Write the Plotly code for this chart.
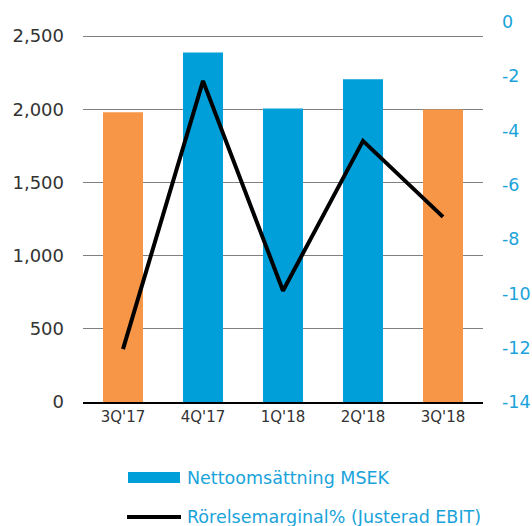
import plotly.graph_objects as go

quarters = ["3Q'17", "4Q'17", "1Q'18", "2Q'18", "3Q'18"]
net_sales = [1980, 2388, 2005, 2205, 1998]
margin_pct = [-12.05, -2.17, -9.9, -4.38, -7.18]
bar_colors = ["#F79646", "#009FD9", "#009FD9", "#009FD9", "#F79646"]
left_ticks = [0, 500, 1000, 1500, 2000, 2500]
left_labels = ["0", "500", "1,000", "1,500", "2,000", "2,500"]
right_ticks = [0, -2, -4, -6, -8, -10, -12, -14]
right_labels = ["0", "-2", "-4", "-6", "-8", "-10", "-12", "-14"]

FONT = "DejaVu Sans"
BLUE = "#009FD9"
LBLUE = "#1AA3DB"

fig = go.Figure()
fig.add_trace(go.Bar(x=quarters, y=net_sales, marker=dict(color=bar_colors, line=dict(width=0)),
                     width=0.5, name="Nettoomsättning MSEK", showlegend=False, yaxis="y"))
fig.add_trace(go.Scatter(x=quarters, y=margin_pct, mode="lines", line=dict(color="black", width=4),
                         name="Rörelsemarginal% (Justerad EBIT)", showlegend=False, yaxis="y2"))

fig.update_layout(
    width=532, height=526,
    margin=dict(l=83, r=49, t=22, b=124, autoexpand=False),
    plot_bgcolor="white", paper_bgcolor="white",
    font=dict(family=FONT, color="#333333"),
    xaxis=dict(showgrid=False, showline=True, linecolor="black", linewidth=2,
               tickfont=dict(size=15, color="#333333"), ticks="", fixedrange=True),
    yaxis=dict(range=[0, 2596], tickvals=left_ticks, ticktext=left_labels,
               showgrid=True, gridcolor="#808080", gridwidth=1, zeroline=False,
               tickfont=dict(size=18, color="#333333"), ticklabelstandoff=18, showline=False),
    yaxis2=dict(range=[-14, 0], tickvals=right_ticks, ticktext=right_labels, overlaying="y", side="right",
                showgrid=False, zeroline=False, showline=False,
                tickfont=dict(size=17.5, color=LBLUE), ticklabelstandoff=18),
    shapes=[
        dict(type="rect", xref="paper", yref="paper", x0=0.1125, x1=0.2425, y0=-0.213, y1=-0.184,
             fillcolor=BLUE, line=dict(width=0)),
        dict(type="line", xref="paper", yref="paper", x0=0.11, x1=0.245, y0=-0.3026, y1=-0.3026,
             line=dict(color="black", width=4)),
    ],
    annotations=[
        dict(text="Nettoomsättning MSEK", xref="paper", yref="paper", x=0.255, y=-0.2,
             xanchor="left", yanchor="middle", showarrow=False, font=dict(size=17.5, color=LBLUE)),
        dict(text="Rörelsemarginal% (Justerad EBIT)", xref="paper", yref="paper", x=0.255, y=-0.3026,
             xanchor="left", yanchor="middle", showarrow=False, font=dict(size=17.5, color=LBLUE)),
    ],
)

fig.write_html("out.html", config={"displayModeBar": False},
               post_script="document.body.style.margin='0';document.body.style.overflow='hidden';")
